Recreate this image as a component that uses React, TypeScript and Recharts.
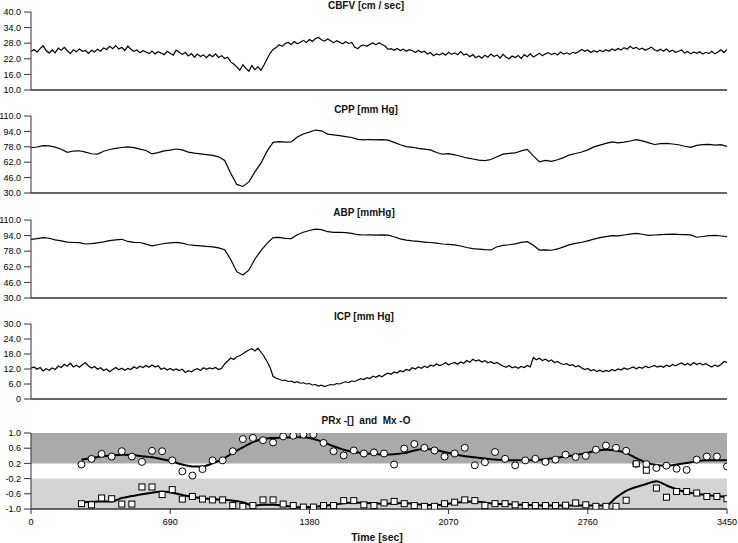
import React from 'react';
import { ComposedChart, Line, XAxis, YAxis, ReferenceArea } from 'recharts';

const FONT = '"Liberation Sans", Arial, Helvetica, sans-serif';

// ---------- axes ----------
const timeTicks = [0, 690, 1380, 2070, 2760, 3450];
const cbfvTicks = [10, 16, 22, 28, 34, 40];
const pressureTicks = [30, 46, 62, 78, 94, 110];
const icpTicks = [0, 6, 12, 18, 24, 30];
const indexTicks = [-1, -0.6, -0.2, 0.2, 0.6, 1];

// ---------- signals (CBFV & ICP sampled every 15 s, CPP & ABP every 30 s) ----------
const cbfvValues = [
  24.8, 25.6, 24.6, 25.9, 27.0, 25.2, 24.2, 25.4, 24.3, 26.1,
  25.3, 26.4, 25.1, 24.0, 25.5, 24.7, 25.8, 24.9, 25.2, 24.1,
  25.3, 24.6, 25.7, 24.9, 26.2, 25.6, 26.8, 25.9, 27.1, 25.8,
  26.4, 25.2, 26.9, 25.7, 24.9, 25.4, 24.3, 25.1, 24.6, 24.0,
  25.0, 23.9, 24.7, 24.2, 23.6, 24.9, 24.1, 23.4, 25.3, 24.5,
  23.7, 24.4, 23.1, 24.0, 22.6, 23.8, 22.9, 23.5, 22.4, 23.6,
  22.8, 23.9, 22.5, 23.2, 22.1, 22.6, 20.8, 20.0, 18.9, 17.6,
  19.7, 18.3, 17.2, 19.4, 17.8, 18.9, 17.6, 19.6, 21.9, 24.1,
  25.6, 26.3, 27.4, 26.8, 27.9, 28.3, 27.5, 28.6, 27.8, 28.4,
  29.1, 28.3, 29.4, 28.7, 29.8, 30.2, 29.3, 28.8, 29.6, 28.9,
  28.2, 29.0, 28.4, 27.8, 28.6, 27.9, 28.3, 26.4, 25.9, 27.0,
  27.3, 26.8, 27.6, 28.1, 27.4, 28.2, 27.5, 26.9, 25.6, 25.9,
  25.3, 26.0, 25.2, 25.7, 24.9, 25.5, 25.1, 24.4, 25.2, 24.5,
  24.9, 23.8, 24.4, 23.2, 23.9, 23.5, 24.2, 23.4, 24.5, 23.7,
  24.3, 23.6, 24.8, 23.5, 23.9, 22.8, 23.6, 22.4, 23.1, 22.2,
  23.4, 22.6, 23.8, 22.9, 23.5, 22.3, 23.7, 22.6, 22.0, 23.1,
  22.5, 23.3, 22.1, 23.6, 22.8, 23.9, 22.7, 23.4, 24.1, 23.2,
  23.9, 24.4, 23.6, 24.2, 23.5, 24.6, 23.8, 24.3, 23.7, 24.5,
  24.1, 24.8, 25.6, 24.9, 25.4, 24.4, 25.1, 24.6, 25.3, 24.7,
  25.5, 24.9, 25.8, 25.2, 26.0, 25.4, 26.3, 25.7, 26.8, 25.9,
  26.4, 25.6, 26.1, 25.3, 25.9, 26.5, 25.5, 25.0, 25.7, 24.9,
  25.8, 24.7, 25.3, 24.5, 24.9, 25.4, 24.2, 24.8, 23.9, 24.6,
  24.1, 24.7, 23.8, 24.5, 24.0, 24.9, 23.9, 24.6, 25.5, 24.4, 25.6,
];

const icpValues = [
  12.3, 12.8, 11.9, 12.6, 11.2, 12.1, 11.5, 12.4, 11.8, 13.2,
  12.6, 13.9, 13.1, 14.3, 12.8, 13.5, 12.7, 13.8, 14.5, 13.2,
  12.4, 13.0, 11.9, 12.5, 11.4, 12.0, 10.9, 11.8, 12.6, 11.7,
  12.3, 11.5, 12.2, 11.8, 12.9, 12.2, 13.1, 12.6, 13.4, 12.7,
  13.6, 12.8, 13.3, 11.9, 12.4, 11.6, 12.2, 11.5, 12.0, 11.4,
  11.9, 10.6, 11.3, 10.9, 11.7, 12.1, 11.4, 12.5, 11.9, 12.4,
  12.1, 12.6, 11.8, 12.3, 14.0, 15.2, 16.4, 15.8, 16.9, 17.3,
  18.1, 18.9, 19.6, 20.1, 19.2, 20.3, 18.7, 17.1, 15.0, 12.6,
  9.1, 8.3, 7.9, 7.4, 7.6, 7.0, 7.2, 6.6, 6.9, 6.3,
  6.5, 6.0, 6.2, 5.6, 5.8, 5.2, 5.5, 5.0, 5.4, 5.8,
  5.6, 6.2, 6.0, 6.5, 6.9, 6.6, 7.2, 7.0, 7.6, 8.1,
  7.8, 8.5, 8.2, 9.1, 8.7, 9.4, 8.9, 9.8, 10.3, 9.9,
  10.8, 10.4, 11.3, 10.9, 11.8, 11.4, 12.5, 12.0, 12.8, 12.3,
  13.1, 12.6, 13.5, 13.2, 14.0, 13.4, 13.8, 14.5, 13.7, 14.2,
  14.6, 13.9, 14.8, 14.3, 15.4, 14.7, 15.9, 15.2, 15.6, 14.8,
  15.3, 14.5, 14.9, 14.2, 14.6, 13.8, 13.2, 12.7, 13.4, 12.5,
  12.9, 12.3, 13.0, 12.6, 13.4, 12.8, 16.6, 15.7, 16.3, 15.4,
  15.9, 15.1, 15.6, 14.6, 15.0, 14.2, 13.8, 14.1, 13.4, 13.7,
  12.9, 13.3, 12.4, 11.8, 12.2, 11.3, 11.7, 11.0, 11.5, 10.9,
  11.4, 11.0, 11.8, 11.3, 12.0, 11.6, 12.4, 11.9, 12.3, 12.8,
  12.1, 12.7, 12.3, 13.1, 12.6, 12.9, 13.4, 12.8, 13.2, 12.7,
  13.5, 13.0, 13.8, 13.3, 13.9, 14.4, 13.6, 14.2, 13.5, 14.6,
  13.8, 14.3, 13.7, 14.1, 13.4, 12.8, 13.6, 13.0, 13.8, 15.0, 14.6,
];

const cppValues = [
  77.0, 77.8, 79.2, 78.9, 77.6, 75.4, 72.3, 73.6, 73.9, 72.4,
  70.8, 70.5, 73.4, 75.2, 76.4, 77.3, 77.9, 77.1, 75.5, 74.2,
  70.6, 71.9, 73.8, 74.6, 75.7, 74.8, 72.5, 71.4, 70.7, 69.9,
  69.1, 67.6, 63.8, 50.5, 38.9, 36.8, 41.5, 52.0, 61.0, 73.5,
  82.6, 83.4, 82.8, 83.1, 88.2, 91.3, 93.2, 95.4, 94.6, 91.2,
  90.3, 89.6, 88.5, 87.7, 85.8, 85.3, 85.6, 85.1, 85.4, 84.9,
  82.6, 80.1, 78.2, 77.5, 76.4, 75.6, 74.8, 72.1, 70.3, 71.0,
  69.7, 68.2, 66.4, 65.3, 64.1, 63.7, 64.8, 67.6, 70.4, 71.2,
  71.6, 73.8, 75.3, 68.5, 62.4, 63.9, 62.8, 64.5, 66.8, 69.7,
  71.0, 72.6, 74.8, 77.9, 79.8, 81.6, 83.2, 82.1, 82.9, 84.0,
  85.4, 84.2, 82.3, 80.4, 81.2, 81.6, 80.9, 80.1, 78.6, 77.4,
  79.5, 80.3, 80.6, 79.8, 80.2, 78.5,
];

const abpValues = [
  90.2, 90.9, 91.9, 91.3, 89.6, 88.6, 87.3, 86.9, 86.7, 85.4,
  85.8, 86.6, 87.6, 88.8, 89.7, 90.2, 88.0, 87.1, 86.9, 85.2,
  83.4, 84.6, 85.9, 86.6, 87.0, 86.2, 84.6, 84.0, 83.5, 82.9,
  82.5, 81.4, 79.6, 69.5, 57.0, 53.6, 58.5, 70.0, 78.5, 86.0,
  92.0, 92.2, 91.2, 91.0, 94.8, 97.4, 99.2, 100.7, 100.1, 98.0,
  97.3, 97.4, 97.1, 96.2, 94.9, 94.6, 94.8, 94.5, 94.7, 94.4,
  92.8, 90.6, 89.4, 88.6, 88.0, 87.4, 86.9, 86.2, 85.4, 85.0,
  84.4, 83.3, 81.8, 80.7, 80.2, 79.6, 79.3, 82.6, 84.0, 84.6,
  85.6, 87.0, 87.8, 84.0, 79.2, 79.4, 79.0, 80.3, 82.5, 84.8,
  86.0, 87.2, 88.6, 90.4, 91.9, 93.0, 94.0, 93.8, 94.6, 95.5,
  96.2, 95.4, 94.2, 94.6, 95.0, 95.3, 95.6, 95.2, 95.0, 94.8,
  92.3, 93.1, 93.9, 94.2, 93.6, 93.0,
];

// ---------- PRx / Mx (every 50 s from 250 s) ----------
const mxValues = [
  0.17, 0.32, 0.45, 0.38, 0.52, 0.38, 0.24, 0.53, 0.52, 0.28,
  -0.01, -0.12, 0.05, 0.28, 0.28, 0.52, 0.84, 0.87, 0.81, 0.75,
  0.91, 0.93, 0.96, 0.96, 0.74, 0.52, 0.41, 0.54, 0.46, 0.49,
  0.46, 0.17, 0.59, 0.71, 0.61, 0.54, 0.38, 0.46, 0.61, 0.15,
  0.23, 0.50, 0.32, 0.15, 0.28, 0.32, 0.24, 0.30, 0.43, 0.37,
  0.40, 0.56, 0.67, 0.61, 0.53, 0.19, 0.18, 0.08, 0.14, 0.06,
  0.03, 0.30, 0.38, 0.38, 0.12,
];
const mxTrend = [
  0.30, 0.34, 0.38, 0.41, 0.43, 0.42, 0.39, 0.36, 0.31, 0.25,
  0.17, 0.12, 0.12, 0.20, 0.32, 0.47, 0.62, 0.76, 0.84, 0.87,
  0.88, 0.89, 0.89, 0.84, 0.76, 0.65, 0.56, 0.50, 0.47, 0.45,
  0.43, 0.44, 0.47, 0.54, 0.58, 0.56, 0.50, 0.44, 0.39, 0.36,
  0.33, 0.30, 0.29, 0.28, 0.28, 0.29, 0.31, 0.34, 0.38, 0.42,
  0.47, 0.53, 0.56, 0.54, 0.47, 0.34, 0.22, 0.16, 0.14, 0.17,
  0.21, 0.26, 0.28, 0.28, 0.28,
];
const prxValues = [
  -0.86, -0.89, -0.71, -0.73, -0.87, -0.87, -0.42, -0.42, -0.62, -0.49,
  -0.74, -0.67, -0.74, -0.76, -0.76, -0.91, -0.93, -0.91, -0.76, -0.76,
  -0.87, -0.91, -0.95, -0.95, -0.91, -0.91, -0.78, -0.78, -0.89, -0.91,
  -0.84, -0.80, -0.86, -0.91, -0.93, -0.93, -0.86, -0.82, -0.76, -0.78,
  -0.91, -0.86, -0.86, -0.89, -0.91, -0.91, -0.91, -0.91, -0.90, -0.84,
  -0.89, -0.93, -0.93, -0.93, -0.77, 0.19, 0.02, -0.45, -0.69, -0.54,
  -0.54, -0.58, -0.67, -0.67, -0.73,
];
const prxTrend = [
  -0.83, -0.81, -0.80, -0.80, -0.71, -0.66, -0.61, -0.57, -0.54, -0.57,
  -0.63, -0.68, -0.72, -0.74, -0.76, -0.78, -0.82, -0.91, -0.89, -0.89,
  -0.91, -0.94, -0.96, -0.94, -0.92, -0.89, -0.85, -0.83, -0.84, -0.85,
  -0.86, -0.85, -0.84, -0.87, -0.89, -0.90, -0.88, -0.84, -0.81, -0.80,
  -0.83, -0.86, -0.87, -0.88, -0.89, -0.90, -0.91, -0.91, -0.91, -0.91,
  -0.91, -0.91, -0.91, -0.70, -0.52, -0.42, -0.34, -0.27, -0.38, -0.48,
  -0.56, -0.60, -0.64, -0.66, -0.68,
];

const cbfvData = cbfvValues.map((v, i) => ({ t: i * 15, v }));
const icpData = icpValues.map((v, i) => ({ t: i * 15, v }));
const cppData = cppValues.map((v, i) => ({ t: i * 30, v }));
const abpData = abpValues.map((v, i) => ({ t: i * 30, v }));
const indexData = mxValues.map((mx, i) => ({
  t: 250 + i * 50,
  mx,
  mxT: mxTrend[i],
  prx: prxValues[i],
  prxT: prxTrend[i],
}));

const fmt1 = (v: number) => (v === 0 ? '0' : v.toFixed(1));
const AXIS = '#333';
const W = 738;

const tickStyle = { fontSize: 9, fill: '#000', fontFamily: FONT };

function SignalPanel({ top, plotH, data, domain, ticks }: any) {
  const mt = 6;
  const xh = 10;
  return (
    <div style={{ position: 'absolute', left: 0, top: top - mt }}>
      <ComposedChart width={W} height={mt + plotH + xh} data={data}
        margin={{ top: mt, right: 11, bottom: 0, left: 0 }}>
        <XAxis dataKey="t" type="number" domain={[0, 3450]} ticks={timeTicks} tick={false}
          tickSize={5} height={xh} axisLine={{ stroke: AXIS, strokeWidth: 1.5 }}
          tickLine={{ stroke: AXIS }} allowDataOverflow interval={0} />
        <YAxis type="number" domain={domain} ticks={ticks} width={31} tickSize={7} tickMargin={3}
          tickFormatter={fmt1} tick={tickStyle} axisLine={{ stroke: AXIS }} tickLine={{ stroke: AXIS }}
          interval={0} allowDataOverflow />
        <Line dataKey="v" type="linear" stroke="#000" strokeWidth={1.2} dot={false}
          isAnimationActive={false} />
      </ComposedChart>
    </div>
  );
}

const circleDot = (p: any) => (
  <circle key={'c' + p.index} cx={p.cx} cy={p.cy} r={3.5} fill="#fff" stroke="#000" strokeWidth={1} />
);
const squareDot = (p: any) => (
  <rect key={'s' + p.index} x={p.cx - 3} y={p.cy - 3} width={6} height={6} fill="#fff" stroke="#000" strokeWidth={1} />
);

function IndexPanel({ top, plotH }: any) {
  const mt = 6;
  const xh = 26;
  return (
    <div style={{ position: 'absolute', left: 0, top: top - mt }}>
      <ComposedChart width={W} height={mt + plotH + xh} data={indexData}
        margin={{ top: mt, right: 11, bottom: 0, left: 0 }}>
        <XAxis dataKey="t" type="number" domain={[0, 3450]} ticks={timeTicks}
          tickSize={5} tickMargin={5} height={xh} tick={tickStyle}
          axisLine={{ stroke: AXIS, strokeWidth: 1.5 }} tickLine={{ stroke: AXIS }}
          allowDataOverflow interval={0} />
        <YAxis type="number" domain={[-1, 1]} ticks={indexTicks} width={31} tickSize={7} tickMargin={3}
          tickFormatter={(v: number) => v.toFixed(1)} tick={tickStyle}
          axisLine={{ stroke: AXIS }} tickLine={{ stroke: AXIS }} interval={0} allowDataOverflow />
        <ReferenceArea x1={0} x2={3450} y1={0.2} y2={1} fill="#aaaaaa" fillOpacity={1} stroke="none" />
        <ReferenceArea x1={0} x2={3450} y1={-1} y2={-0.2} fill="#d4d4d4" fillOpacity={1} stroke="none" />
        <Line dataKey="mx" stroke="none" dot={circleDot} activeDot={false} isAnimationActive={false} />
        <Line dataKey="prx" stroke="none" dot={squareDot} activeDot={false} isAnimationActive={false} />
        <Line dataKey="mxT" type="monotone" stroke="#000" strokeWidth={2} dot={false} isAnimationActive={false} />
        <Line dataKey="prxT" type="monotone" stroke="#000" strokeWidth={2} dot={false} isAnimationActive={false} />
      </ComposedChart>
    </div>
  );
}

function Title({ text, x, y, size = 10 }: any) {
  return (
    <div style={{
      position: 'absolute', left: x, top: y, transform: 'translate(-50%, -50%)',
      fontFamily: FONT, fontWeight: 'bold', fontSize: size, color: '#111',
      whiteSpace: 'pre', lineHeight: 1,
    }}>{text}</div>
  );
}

export default function App() {
  return (
    <div style={{ position: 'absolute', left: 0, top: 0, width: W, height: 543, background: '#fff', overflow: 'hidden' }}>
      <SignalPanel top={12} plotH={78} data={cbfvData} domain={[10, 40]} ticks={cbfvTicks} />
      <SignalPanel top={116} plotH={77} data={cppData} domain={[30, 110]} ticks={pressureTicks} />
      <SignalPanel top={220} plotH={78} data={abpData} domain={[30, 110]} ticks={pressureTicks} />
      <SignalPanel top={324} plotH={75} data={icpData} domain={[0, 30]} ticks={icpTicks} />
      <IndexPanel top={433} plotH={76} />
      <Title text="CBFV [cm / sec]" x={366} y={6} />
      <Title text="CPP [mm Hg]" x={366} y={110} />
      <Title text="ABP [mmHg]" x={364} y={213} />
      <Title text="ICP [mm Hg]" x={364} y={317} />
      <Title text={'PRx -[]  and  Mx -O'} x={366} y={421} />
      <Title text="Time [sec]" x={377} y={537} size={10.5} />
    </div>
  );
}
